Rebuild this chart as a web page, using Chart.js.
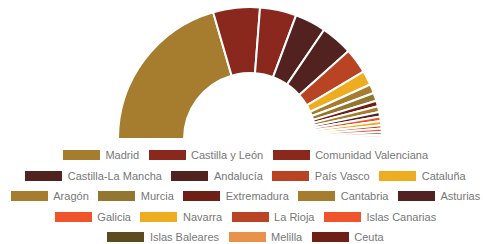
<!DOCTYPE html>
<html>
<head>
<meta charset="utf-8">
<script src="https://cdn.jsdelivr.net/npm/chart.js@4.4.0/dist/chart.umd.min.js"></script>
<style>
  html, body { margin: 0; padding: 0; background: #fff; overflow: hidden; }
  #wrap { width: 483px; height: 140px; position: relative; }
  #legend {
    box-sizing: border-box;
    width: 483px;
    padding-left: 8px;
    margin-top: 5px;
    display: flex;
    flex-wrap: wrap;
    justify-content: center;
    column-gap: 9.5px;
    font-family: "Liberation Sans", Arial, sans-serif;
    font-size: 11px;
    color: #777;
  }
  .item { display: flex; align-items: center; height: 20.5px; white-space: nowrap; }
  .box { width: 37px; height: 10px; margin-right: 5.5px; }
</style>
</head>
<body>
<div id="wrap"><canvas id="chart"></canvas></div>
<div id="legend"></div>
<script>
// regiones y valores
const regiones = [
  "Madrid", "Castilla y León", "Comunidad Valenciana", "Castilla-La Mancha",
  "Andalucía", "País Vasco", "Cataluña", "Aragón", "Murcia", "Extremadura",
  "Cantabria", "Asturias", "Galicia", "Navarra", "La Rioja", "Islas Canarias",
  "Islas Baleares", "Melilla", "Ceuta"
];
const valores = [73.5, 20.5, 16, 13.7, 14, 11, 6.3, 4, 3.5, 2.5, 2.5, 2, 2, 1.8, 1.5, 1.5, 1.2, 1, 0.8];
const colores = [
  "#a67c2e", "#8b281d", "#8b281d", "#51221f", "#51221f", "#b84424", "#eeac20",
  "#a67c2e", "#937630", "#6f2016", "#a67c2e", "#51221f", "#f0542c", "#eeac20",
  "#b84424", "#f0542c", "#5c4b1f", "#e8924a", "#6f2016"
];

// leyenda en html, a partir de los elementos que genera Chart.js
const htmlLegend = {
  id: "htmlLegend",
  afterUpdate(chart) {
    const box = document.getElementById("legend");
    box.innerHTML = "";
    const items = Chart.overrides.doughnut.plugins.legend.labels.generateLabels(chart);
    items.forEach((it) => {
      const div = document.createElement("div");
      div.className = "item";
      const sw = document.createElement("span");
      sw.className = "box";
      sw.style.background = it.fillStyle;
      const txt = document.createElement("span");
      txt.textContent = it.text;
      div.appendChild(sw);
      div.appendChild(txt);
      box.appendChild(div);
    });
  }
};

const ctx = document.getElementById("chart").getContext("2d");
new Chart(ctx, {
  type: "doughnut",
  data: {
    labels: regiones,
    datasets: [{
      data: valores,
      backgroundColor: colores,
      borderColor: "#fff",
      borderWidth: 2
    }]
  },
  options: {
    responsive: true,
    maintainAspectRatio: false,
    animation: false,
    rotation: -90,
    circumference: 180,
    cutout: "50%",
    layout: { padding: { left: 17, top: 6 } },
    plugins: {
      legend: { display: false },
      tooltip: { enabled: false }
    }
  },
  plugins: [htmlLegend]
});
</script>
</body>
</html>
